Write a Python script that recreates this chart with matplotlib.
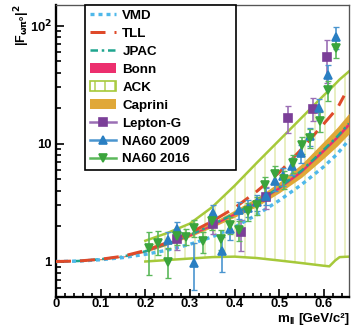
import matplotlib
matplotlib.use("Agg")
import matplotlib.pyplot as plt
from matplotlib.patches import Patch
from matplotlib.lines import Line2D
import numpy as np

plt.rcParams['font.family'] = ['Liberation Sans', 'DejaVu Sans']
plt.rcParams['font.weight'] = 'bold'
plt.rcParams['hatch.linewidth'] = 0.8

# ---- model curves ----
m_grid = [0.0, 0.05, 0.10, 0.15, 0.20, 0.25, 0.30, 0.35, 0.40, 0.45, 0.50, 0.55, 0.60, 0.63, 0.656]
vmd = [1.0, 1.008, 1.035, 1.08, 1.15, 1.25, 1.40, 1.62, 1.96, 2.50, 3.30, 4.50, 6.40, 8.20, 10.8]
jpac = [1.0, 1.01, 1.045, 1.10, 1.22, 1.42, 1.68, 2.05, 2.55, 3.20, 4.25, 5.90, 8.90, 11.5, 14.8]
bonn_lo = [1.0, 1.01, 1.04, 1.095, 1.21, 1.40, 1.65, 2.01, 2.49, 3.12, 4.13, 5.72, 8.6, 11.1, 14.2]
bonn_hi = [1.0, 1.01, 1.05, 1.105, 1.23, 1.44, 1.71, 2.09, 2.61, 3.28, 4.37, 6.08, 9.2, 11.9, 15.4]
cap_lo = [1.0, 1.01, 1.035, 1.09, 1.20, 1.38, 1.62, 1.95, 2.38, 2.93, 3.83, 5.18, 7.54, 9.58, 12.1]
cap_hi = [1.0, 1.01, 1.055, 1.11, 1.24, 1.46, 1.75, 2.15, 2.73, 3.49, 4.72, 6.73, 10.5, 13.8, 18.1]

m_tll = [0.0, 0.05, 0.10, 0.15, 0.20, 0.25, 0.30, 0.35, 0.40, 0.45, 0.50, 0.55, 0.60, 0.63, 0.645]
tll = [1.0, 1.01, 1.045, 1.11, 1.24, 1.45, 1.75, 2.20, 2.85, 3.95, 5.7, 9.0, 14.8, 20.0, 25.5]

m_ack = [0.20, 0.25, 0.30, 0.35, 0.40, 0.45, 0.50, 0.55, 0.60, 0.612, 0.625, 0.635, 0.656]
ack_hi = [1.5, 1.75, 2.1, 2.9, 4.4, 6.9, 10.7, 16.6, 25.8, 28.5, 32.0, 35.0, 41.0]
ack_lo = [1.0, 1.03, 1.06, 1.09, 1.10, 1.07, 1.02, 0.97, 0.92, 0.91, 1.02, 1.09, 1.10]

# ---- data points ----
lg_m = [0.270, 0.351, 0.415, 0.470, 0.520, 0.575, 0.607]
lg_v = [1.56, 2.10, 1.78, 3.50, 16.5, 19.5, 54.0]
lg_lo = [0.30, 0.40, 0.56, 0.70, 4.1, 4.0, 21.0]
lg_hi = [0.30, 0.40, 0.49, 0.80, 4.2, 5.0, 22.0]

na09_m = [0.250, 0.270, 0.309, 0.351, 0.371, 0.390, 0.410, 0.430, 0.450, 0.470, 0.490, 0.509, 0.528, 0.548, 0.569, 0.589, 0.610, 0.628]
na09_v = [1.52, 1.87, 0.975, 2.59, 1.22, 1.87, 2.76, 2.85, 3.2, 3.6, 4.8, 5.3, 6.5, 8.3, 11.5, 20.0, 38.5, 81.0]
na09_lo = [0.25, 0.30, 0.40, 0.40, 0.41, 0.35, 0.45, 0.45, 0.5, 0.6, 0.8, 0.9, 1.1, 1.4, 2.0, 4.0, 8.0, 17.0]
na09_hi = [0.25, 0.30, 0.47, 0.45, 0.41, 0.35, 0.45, 0.45, 0.5, 0.6, 0.8, 0.9, 1.1, 1.4, 2.0, 4.0, 8.0, 17.0]

na16_m = [0.209, 0.229, 0.250, 0.270, 0.290, 0.309, 0.328, 0.350, 0.370, 0.390, 0.410, 0.430, 0.450, 0.468, 0.490, 0.510, 0.531, 0.550, 0.569, 0.591, 0.610, 0.628]
na16_v = [1.29, 1.44, 1.00, 1.64, 1.62, 1.93, 1.49, 2.20, 1.55, 2.05, 1.85, 2.67, 3.00, 4.50, 5.50, 5.00, 6.80, 9.80, 11.2, 15.5, 28.6, 65.0]
na16_lo = [0.52, 0.30, 0.28, 0.25, 0.25, 0.30, 0.30, 0.35, 0.30, 0.35, 0.35, 0.45, 0.5, 0.7, 0.9, 0.9, 1.2, 1.6, 2.0, 3.0, 5.5, 12.0]
na16_hi = [0.48, 0.37, 0.31, 0.25, 0.25, 0.30, 0.30, 0.35, 0.30, 0.35, 0.35, 0.45, 0.5, 0.7, 0.9, 0.9, 1.2, 1.6, 2.0, 3.0, 5.5, 12.0]

labels = ['VMD', 'TLL', 'JPAC', 'Bonn', 'ACK', 'Caprini', 'Lepton-G', 'NA60 2009', 'NA60 2016']
x_ticks = [0, 0.1, 0.2, 0.3, 0.4, 0.5, 0.6]
x_ticklabels = ['0', '0.1', '0.2', '0.3', '0.4', '0.5', '0.6']
y_ticks = [1, 10, 100]
y_ticklabels = ['1', '10', '10$^{\\mathbf{2}}$']

# ---- colours ----
c_vmd = '#4fb8ea'
c_tll = '#df4a2a'
c_jpac = '#1fa58f'
c_bonn = '#ec2f6e'
c_cap = '#e0a838'
c_ack = '#a6c93a'
c_ack_h = '#dfe8a6'
c_lg = '#7b3f98'
c_n09 = '#2a7fc2'
c_n16 = '#3aa43c'

W, H, DPI = 351, 328, 120
fig = plt.figure(figsize=(W / DPI, H / DPI), dpi=DPI)
ax = fig.add_axes([56 / W, 31 / H, 293 / W, 292 / H])

# ACK band with vertical hatching
ax.fill_between(m_ack, ack_lo, ack_hi, facecolor='none', edgecolor=c_ack_h, hatch='||', linewidth=0)
ax.plot(m_ack, ack_hi, color=c_ack, lw=1.5, zorder=2)
ax.plot(m_ack, ack_lo, color=c_ack, lw=1.5, zorder=2)

ax.fill_between(m_grid, cap_lo, cap_hi, color=c_cap, lw=0, zorder=3)
ax.fill_between(m_grid, bonn_lo, bonn_hi, color=c_bonn, lw=0, zorder=4)
ax.plot(m_grid, jpac, color=c_jpac, lw=1.5, ls=(0, (3, 1.5, 1, 1.5)), zorder=5)
ax.plot(m_grid, vmd, color=c_vmd, lw=2, ls=(0, (1.2, 1.2)), zorder=5)
ax.plot(m_tll, tll, color=c_tll, lw=1.8, ls=(0, (5, 3)), zorder=5)

ek = dict(capsize=2, elinewidth=1.0, capthick=0.8, markersize=5, zorder=6, linestyle='none')
ax.errorbar(lg_m, lg_v, yerr=[lg_lo, lg_hi], fmt='s', color=c_lg, ecolor='#9b6fb5', **ek)
ax.errorbar(na09_m, na09_v, yerr=[na09_lo, na09_hi], fmt='^', color=c_n09, ecolor='#4a95cf', **ek)
ax.errorbar(na16_m, na16_v, yerr=[na16_lo, na16_hi], fmt='v', color=c_n16, ecolor='#5bb85a', **ek)

ax.set_yscale('log')
ax.set_xlim(0, 0.656)
ax.set_ylim(0.5, 150)
ax.set_xticks(x_ticks)
ax.set_xticklabels(x_ticklabels)
ax.xaxis.set_minor_locator(matplotlib.ticker.MultipleLocator(0.02))
ax.set_yticks(y_ticks)
ax.set_yticklabels(y_ticklabels)
ax.yaxis.set_minor_locator(matplotlib.ticker.LogLocator(base=10, subs=np.arange(2, 10)))
ax.yaxis.set_minor_formatter(matplotlib.ticker.NullFormatter())
ax.tick_params(which='both', direction='in', top=False, right=False, width=1.0, labelsize=7.8)
ax.tick_params(axis='x', pad=0.8)
ax.tick_params(axis='y', pad=2.5)
ax.tick_params(which='major', length=4.8)
ax.tick_params(which='minor', length=2.7)
for s in ['left', 'bottom']:
    ax.spines[s].set_linewidth(1.4)
for s in ['top', 'right']:
    ax.spines[s].set_linewidth(0.8)
    ax.spines[s].set_color('#555555')

# x-axis title built from plain-text pieces (unit, subscript, symbol)
renderer = fig.canvas.get_renderer()
t_unit = fig.text(349 / W, 6 / H, '[GeV/c\u00b2]', ha='right', va='baseline', fontsize=8, fontweight='bold')
bb = t_unit.get_window_extent(renderer)
t_sub = fig.text(bb.x0 - 3, 4.0, 'll', ha='right', va='baseline', fontsize=5.5,
                 fontweight='bold', transform=None)
bb2 = t_sub.get_window_extent(renderer)
fig.text(bb2.x0 - 0.3, 6, 'm', ha='right', va='baseline', fontsize=8, fontweight='bold', transform=None)

# y-axis title at the top-left corner
fig.text(12 / W, 1 - 4 / H, '|F$_{\\mathbf{\\omega\\pi^{0}}}$|$^{\\mathbf{2}}$', rotation=90,
         ha='left', va='top', fontsize=7.5, fontweight='bold')

handles = [
    Line2D([], [], color=c_vmd, lw=2, ls=(0, (1.2, 1.2))),
    Line2D([], [], color=c_tll, lw=1.8, ls=(0, (5, 3))),
    Line2D([], [], color=c_jpac, lw=1.5, ls=(0, (3, 1.5, 1, 1.5))),
    Patch(facecolor=c_bonn, edgecolor='none'),
    Patch(facecolor='none', edgecolor=c_ack, hatch='||'),
    Patch(facecolor=c_cap, edgecolor='none'),
    Line2D([], [], color='#9b6fb5', marker='s', markerfacecolor=c_lg, markeredgecolor=c_lg, markersize=5),
    Line2D([], [], color='#4a95cf', marker='^', markerfacecolor=c_n09, markeredgecolor=c_n09, markersize=5),
    Line2D([], [], color='#5bb85a', marker='v', markerfacecolor=c_n16, markeredgecolor=c_n16, markersize=5),
]
leg = ax.legend(handles, labels, loc='upper left',
                bbox_to_anchor=((85 - 56) / 293, 0.0, (236 - 85) / 293, 1.0), mode='expand',
                frameon=True, fancybox=False, edgecolor='black', framealpha=1,
                prop={'weight': 'bold', 'size': 8}, handlelength=2.0, handletextpad=0.45,
                labelspacing=0.42, borderpad=0.35, borderaxespad=0)
leg.get_frame().set_linewidth(1.0)
leg.set_zorder(10)

fig.savefig('out.png', dpi=DPI)
